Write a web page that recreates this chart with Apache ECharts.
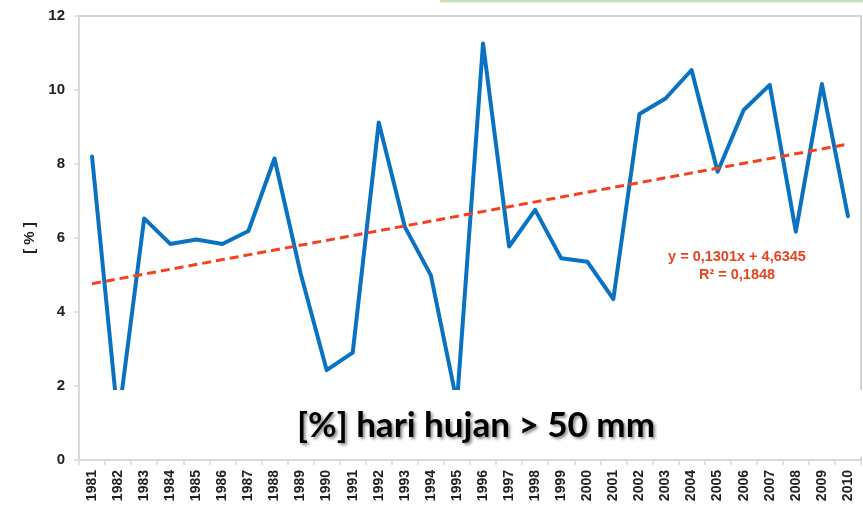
<!DOCTYPE html>
<html>
<head>
<meta charset="utf-8">
<script src="https://cdn.jsdelivr.net/npm/echarts@6/dist/echarts.min.js"></script>
<style>
html,body{margin:0;padding:0;background:#fff;}
#chart{width:863px;height:512px;}
</style>
</head>
<body>
<div id="chart"></div>
<script>
const years = ['1981','1982','1983','1984','1985','1986','1987','1988','1989','1990',
  '1991','1992','1993','1994','1995','1996','1997','1998','1999','2000',
  '2001','2002','2003','2004','2005','2006','2007','2008','2009','2010'];
const heavyRainPct = [8.2, 1.05, 6.53, 5.84, 5.96, 5.84, 6.19, 8.15, 5.05, 2.43,
  2.9, 9.12, 6.3, 4.99, 1.55, 11.26, 5.77, 6.76, 5.45, 5.36,
  4.35, 9.35, 9.77, 10.54, 7.79, 9.46, 10.14, 6.17, 10.16, 6.59];
const trendYears = ['1981', '2010'];
const trendValues = [4.7646, 8.5375];
const yAxisMin = 0, yAxisMax = 12, yAxisStep = 2;
const equationLines = ['y = 0,1301x + 4,6345', 'R² = 0,1848'];
const overlayTitle = '[%] hari hujan > 50 mm';
const yAxisTitle = '[ % ]';

const chart = echarts.init(document.getElementById('chart'), null, {renderer: 'canvas'});
chart.setOption({
  backgroundColor: '#ffffff',
  animation: false,
  grid: {left: 79, right: 2, top: 16, bottom: 52, show: true, borderColor: '#d4d4d4', borderWidth: 2, backgroundColor: 'transparent'},
  xAxis: {
    type: 'category',
    data: years,
    boundaryGap: true,
    axisLine: {lineStyle: {color: '#d9d9d9', width: 2}},
    axisTick: {show: true, length: 5, lineStyle: {color: '#d9d9d9', width: 1.5}},
    axisLabel: {rotate: 90, margin: 10, fontSize: 14, fontWeight: 'bold', color: '#222', fontFamily: 'Liberation Sans, Arial, sans-serif', interval: 0},
    splitLine: {show: false}
  },
  yAxis: {
    type: 'value',
    min: yAxisMin, max: yAxisMax, interval: yAxisStep,
    name: yAxisTitle,
    nameLocation: 'middle',
    nameRotate: 90,
    nameGap: 42,
    nameTextStyle: {fontSize: 15, fontWeight: 'bold', color: '#222', fontFamily: 'Liberation Sans, Arial, sans-serif'},
    axisLine: {show: true, lineStyle: {color: '#d9d9d9', width: 2}},
    axisTick: {show: true, length: 5, lineStyle: {color: '#d9d9d9', width: 1.5}},
    axisLabel: {margin: 14, fontSize: 15, fontWeight: 'bold', color: '#222', fontFamily: 'Liberation Sans, Arial, sans-serif'},
    splitLine: {show: false}
  },
  series: [
    {
      type: 'line',
      data: heavyRainPct,
      symbol: 'none',
      z: 3,
      lineStyle: {color: '#0a72c2', width: 4, join: 'round', cap: 'round'}
    },
    {
      type: 'line',
      data: trendYears.map((y, i) => [y, trendValues[i]]),
      symbol: 'none',
      z: 4,
      lineStyle: {color: '#f4411e', width: 3, type: [9, 5]}
    }
  ],
  graphic: [
    {type: 'rect', z: 100, shape: {x: 440, y: 0, width: 423, height: 2.5}, style: {fill: '#c8e2b6'}},
    {type: 'text', z: 100, x: 737, y: 257, style: {text: equationLines[0], fill: '#e8431f', font: 'bold 14.5px "Liberation Sans", Arial, sans-serif', textAlign: 'center', textVerticalAlign: 'middle'}},
    {type: 'text', z: 100, x: 737, y: 275, style: {text: equationLines[1], fill: '#e8431f', font: 'bold 14.5px "Liberation Sans", Arial, sans-serif', textAlign: 'center', textVerticalAlign: 'middle'}},
    {type: 'rect', z: 100, shape: {x: 81, y: 390, width: 782, height: 67}, style: {fill: '#ffffff'}},
    {type: 'text', z: 101, x: 476, y: 426, style: {text: overlayTitle, fill: '#000', font: 'bold 35px Lato, "Open Sans", sans-serif', textAlign: 'center', textVerticalAlign: 'middle', textShadowColor: 'rgba(0,0,0,0.45)', textShadowBlur: 3, textShadowOffsetX: 2, textShadowOffsetY: 2}}
  ]
});
</script>
</body>
</html>
